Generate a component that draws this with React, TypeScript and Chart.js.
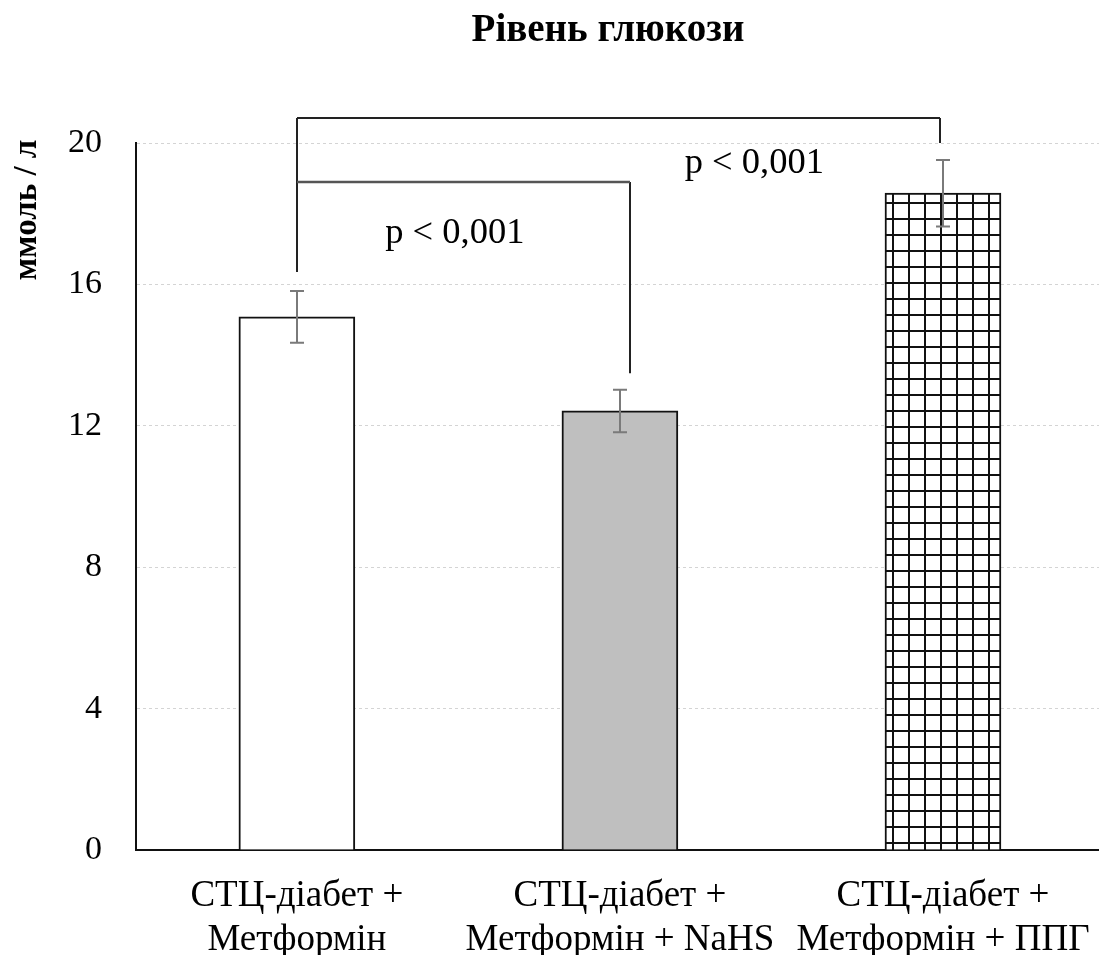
import React, { useEffect, useRef } from "react";
import { Chart, registerables } from "chart.js";

Chart.register(...registerables);

// Groups shown on the x axis (two-line labels)
const groupLabels: string[][] = [
  ["СТЦ-діабет +", "Метформін"],
  ["СТЦ-діабет +", "Метформін + NaHS"],
  ["СТЦ-діабет +", "Метформін + ППГ"],
];
const groupIndex = [0, 1, 2];

// Mean glucose level, mmol/l, and its error (±)
const glucoseMean = [15.08, 12.42, 18.58];
const glucoseError = [0.73, 0.6, 0.94];

const yTickValues = [0, 4, 8, 12, 16, 20];

const chartTitle = "Рівень глюкози";
const yAxisTitle = "ммоль / л";
const pText = "p < 0,001";

// Significance brackets: x in group units, heights in mmol/l
const bracketFrom = [0, 0];
const bracketTo = [1.99, 1.03];
const bracketLevel = [20.71, 18.9];
const bracketFromEnd = [16.35, 16.35];
const bracketToEnd = [20.0, 13.49];
const bracketLabelX = [1.416, 0.489];
const bracketLabelY = [19.15, 17.17];

const SERIF = "'Liberation Serif', 'Times New Roman', serif";

function makeGridPattern(): CanvasPattern | string {
  const c = document.createElement("canvas");
  c.width = 16;
  c.height = 16;
  const g = c.getContext("2d");
  if (!g) return "#ffffff";
  g.fillStyle = "#ffffff";
  g.fillRect(0, 0, 16, 16);
  g.fillStyle = "#111111";
  g.fillRect(12, 0, 2, 16);
  g.fillRect(0, 10, 16, 2);
  return g.createPattern(c, "repeat") || "#ffffff";
}

const overlayPlugin = {
  id: "glucoseOverlay",
  afterDatasetsDraw(chart: any) {
    const { ctx } = chart;
    const x = chart.scales.x;
    const y = chart.scales.y;
    ctx.save();

    // error bars
    ctx.strokeStyle = "#7a7a7a";
    ctx.lineWidth = 2;
    glucoseMean.forEach((v, i) => {
      const px = Math.round(x.getPixelForValue(groupIndex[i]));
      const top = y.getPixelForValue(v + glucoseError[i]);
      const bot = y.getPixelForValue(v - glucoseError[i]);
      ctx.beginPath();
      ctx.moveTo(px, top);
      ctx.lineTo(px, bot);
      ctx.moveTo(px - 7, top);
      ctx.lineTo(px + 7, top);
      ctx.moveTo(px - 7, bot);
      ctx.lineTo(px + 7, bot);
      ctx.stroke();
    });

    // significance brackets
    bracketFrom.forEach((from, i) => {
      const x1 = Math.round(x.getPixelForValue(from));
      const x2 = Math.round(x.getPixelForValue(bracketTo[i]));
      const yl = Math.round(y.getPixelForValue(bracketLevel[i]));
      const y1 = y.getPixelForValue(bracketFromEnd[i]);
      const y2 = y.getPixelForValue(bracketToEnd[i]);
      ctx.strokeStyle = "#222222";
      ctx.lineWidth = 2;
      ctx.beginPath();
      ctx.moveTo(x1, y1);
      ctx.lineTo(x1, yl);
      ctx.moveTo(x2, yl);
      ctx.lineTo(x2, y2);
      ctx.stroke();
      ctx.strokeStyle = i === 0 ? "#222222" : "#555555";
      ctx.lineWidth = i === 0 ? 2 : 2.5;
      ctx.beginPath();
      ctx.moveTo(x1, yl);
      ctx.lineTo(x2, yl);
      ctx.stroke();

      ctx.fillStyle = "#000000";
      ctx.font = `36.5px ${SERIF}`;
      ctx.textAlign = "center";
      ctx.textBaseline = "alphabetic";
      ctx.fillText(
        pText,
        x.getPixelForValue(bracketLabelX[i]),
        y.getPixelForValue(bracketLabelY[i])
      );
    });
    ctx.restore();
  },
  afterDraw(chart: any) {
    const { ctx } = chart;
    ctx.save();
    ctx.fillStyle = "#000000";
    ctx.font = `bold 39px ${SERIF}`;
    ctx.textAlign = "center";
    ctx.textBaseline = "middle";
    ctx.fillText(chartTitle, 608, 31);

    ctx.translate(27, 210);
    ctx.rotate(-Math.PI / 2);
    ctx.font = `bold 33px ${SERIF}`;
    ctx.fillText(yAxisTitle, 0, 0);
    ctx.restore();
  },
};

export default function App() {
  const canvasRef = useRef<HTMLCanvasElement | null>(null);

  useEffect(() => {
    const canvas = canvasRef.current;
    if (!canvas) return;
    const pattern = makeGridPattern();

    const chart = new Chart(canvas, {
      type: "bar",
      data: {
        datasets: [
          {
            data: glucoseMean.map((v, i) => ({ x: groupIndex[i], y: v })),
            backgroundColor: ["#ffffff", "#bfbfbf", pattern as any],
            borderColor: "#111111",
            borderWidth: 2,
            barThickness: 116,
          },
        ],
      },
      options: {
        responsive: false,
        animation: false,
        layout: { padding: { top: 143, left: 0, right: 0, bottom: 0 } },
        plugins: {
          legend: { display: false },
          tooltip: { enabled: false },
          title: { display: false },
        },
        scales: {
          x: {
            type: "linear",
            offset: false,
            min: -0.498,
            max: 2.483,
            grid: { display: false, offset: false },
            border: { display: true, color: "#111111", width: 2 },
            afterBuildTicks: (scale: any) => {
              scale.ticks = groupIndex.map((v) => ({ value: v }));
            },
            afterFit: (scale: any) => {
              scale.height = 105;
              scale.paddingLeft = 0;
              scale.paddingRight = 0;
            },
            ticks: {
              autoSkip: false,
              maxRotation: 0,
              minRotation: 0,
              padding: 16,
              color: "#000000",
              font: { family: SERIF, size: 37, lineHeight: 1.2 },
              callback: (value: any) => groupLabels[Number(value)] ?? "",
            },
          },
          y: {
            min: 0,
            max: 20,
            afterBuildTicks: (scale: any) => {
              scale.ticks = yTickValues.map((v) => ({ value: v }));
            },
            afterFit: (scale: any) => {
              scale.width = 136;
            },
            grid: { color: "#d4d4d4", lineWidth: 1, drawTicks: false },
            border: { display: true, color: "#111111", width: 2, dash: [3, 3] },
            ticks: {
              padding: 34,
              color: "#000000",
              font: { family: SERIF, size: 34 },
            },
          },
        },
      },
      plugins: [overlayPlugin],
    });

    return () => chart.destroy();
  }, []);

  return (
    <div style={{ position: "absolute", left: 0, top: 0, width: 1099, height: 955 }}>
      <canvas ref={canvasRef} width={1099} height={955} style={{ display: "block" }} />
    </div>
  );
}
